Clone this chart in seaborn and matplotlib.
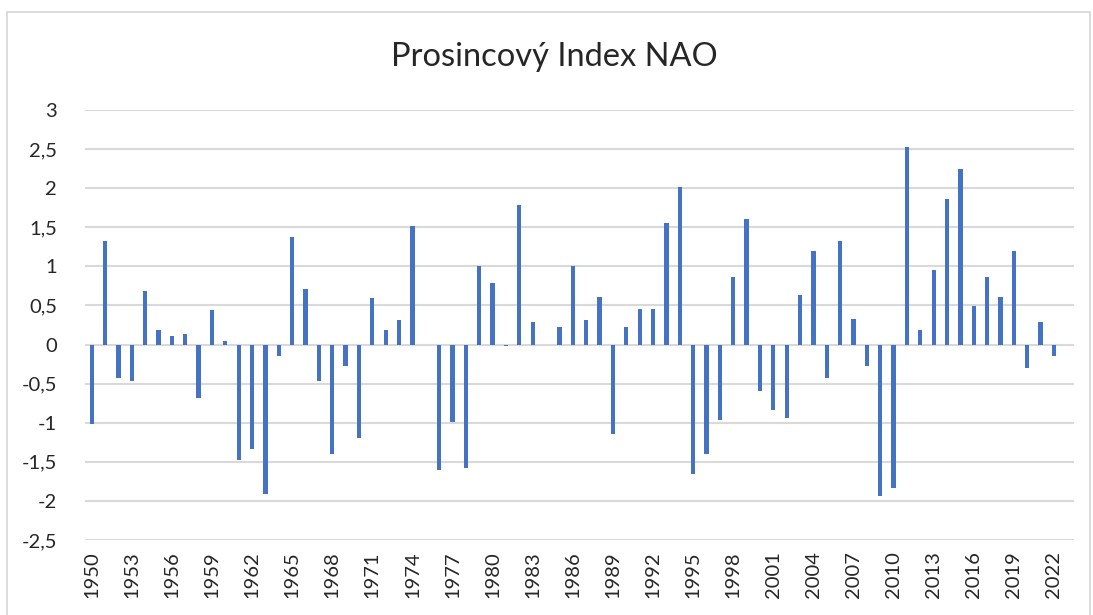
import matplotlib
matplotlib.use("Agg")
from matplotlib import pyplot as plt
from matplotlib.patches import Rectangle
import numpy as np
import pandas as pd
import seaborn as sns

# December NAO index, 1950-2022
years = list(range(1950, 2023))
nao = [
    -1.02, 1.33, -0.43, -0.46, 0.69, 0.18, 0.11, 0.13, -0.69, 0.44,
    0.05, -1.48, -1.33, -1.91, -0.15, 1.38, 0.71, -0.46, -1.40, -0.28,
    -1.20, 0.59, 0.18, 0.31, 1.51, 0.00, -1.60, -0.99, -1.58, 1.00,
    0.79, -0.02, 1.79, 0.29, 0.00, 0.23, 1.00, 0.31, 0.61, -1.14,
    0.23, 0.46, 0.46, 1.56, 2.01, -1.66, -1.40, -0.97, 0.87, 1.61,
    -0.59, -0.84, -0.94, 0.64, 1.20, -0.43, 1.33, 0.33, -0.28, -1.94,
    -1.83, 2.53, 0.18, 0.95, 1.86, 2.25, 0.49, 0.87, 0.61, 1.20,
    -0.30, 0.29, -0.15,
]
title = "Prosincový Index NAO"
y_ticks = [-2.5, -2, -1.5, -1, -0.5, 0, 0.5, 1, 1.5, 2, 2.5, 3]

df = pd.DataFrame({"rok": [str(y) for y in years], "nao": nao})

sns.set_style("white")
plt.rcParams["font.family"] = ["Lato", "DejaVu Sans"]

W, H = 1093, 615
fig = plt.figure(figsize=(W / 100, H / 100), dpi=100)
ax = fig.add_axes([85 / W, 1 - 540 / H, (1074 - 85) / W, (540 - 110) / H])

sns.barplot(data=df, x="rok", y="nao", color="#4472C4", width=0.32,
            saturation=1, linewidth=0, ax=ax, zorder=3)

ax.set_ylim(-2.5, 3)
ax.set_xlim(-0.5, len(years) + 0.5)
ax.set_yticks(y_ticks)
ax.set_yticklabels([f"{v:g}".replace(".", ",") for v in y_ticks], fontsize=14.5)
tick_pos = list(range(0, len(years), 3))
ax.set_xticks(tick_pos)
ax.set_xticklabels([df["rok"][i] for i in tick_pos], rotation=90, fontsize=14.5)
ax.tick_params(axis="y", length=0, pad=20)
ax.tick_params(axis="x", length=0, pad=8)
ax.yaxis.grid(True, color="#d9d9d9", linewidth=1.5, zorder=0)
ax.set_axisbelow(True)
for s in ax.spines.values():
    s.set_visible(False)
ax.set_xlabel("")
ax.set_ylabel("")

fig.text(554 / W, 1 - 57 / H, title, ha="center", va="center", fontsize=23.5)

# chart area border
fig.patches.append(Rectangle((7 / W, -0.05), (1090 - 7) / W, 1.05 - 12 / H,
                             transform=fig.transFigure, fill=False,
                             edgecolor="#d9d9d9", linewidth=1.3))

fig.savefig("out.png", dpi=100, facecolor="white")
